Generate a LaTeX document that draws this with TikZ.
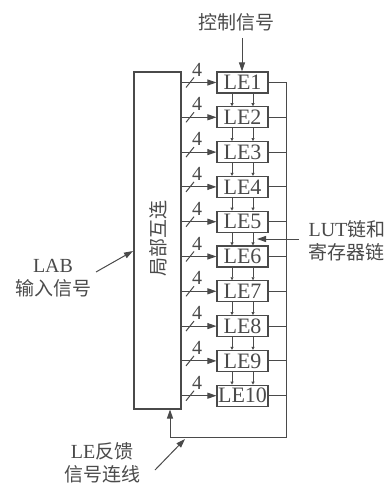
\documentclass[tikz,border=0pt]{standalone}
\usepackage{fontspec}
\setmainfont{Liberation Serif}
\newfontfamily\cjk{Noto Sans CJK SC}
\usetikzlibrary{arrows.meta}
\definecolor{ink}{HTML}{4A4A4A}
\begin{document}
\begin{tikzpicture}[x=1pt,y=-1pt,color=ink,line width=1pt,
  lebox/.style={draw=ink,line width=1.1pt,minimum width=51pt,minimum height=21pt,inner sep=0pt,font=\fontsize{22}{22}\selectfont,text=ink},
  arr/.style={-{Triangle[length=9pt,width=6pt]}},
  sarr/.style={-{Triangle[length=3pt,width=3pt]},line width=0.7pt},
  lbl/.style={text=ink,font=\cjk\fontsize{19}{23}\selectfont,align=center,inner sep=0pt},
  num/.style={text=ink,font=\fontsize{20}{20}\selectfont,inner sep=0pt}]
\useasboundingbox (0,0) rectangle (391,486);
% local interconnect box
\node[draw=ink,line width=1.1pt,minimum width=47pt,minimum height=337pt,inner sep=0pt] (lib) at (157.5,240.5) {};
\node[lbl,rotate=90] (libt) at (158,238) {局部互连};
% LEs
\foreach \i in {1,...,10}{
  \pgfmathsetmacro{\yc}{82.5+(\i-1)*34.8}
  \node[lebox] (le\i) at (242.5,\yc) {LE\i};
  \coordinate (in\i) at (181,\yc);
  \coordinate (bus\i) at (286,\yc);
  \draw[arr] (in\i) -- (le\i.west);
  \draw (le\i.east) -- (bus\i);
  \draw (186,\yc+5) -- (194,\yc-5);
  \node[num] (n\i) at (197,\yc-13) {4};
}
\foreach \i [evaluate=\i as \j using int(\i+1)] in {1,...,9}{
  \draw[sarr] ([xshift=-10.5pt]le\i.south) -- ([xshift=-10.5pt]le\j.north);
  \draw[sarr] ([xshift=10.5pt]le\i.south) -- ([xshift=10.5pt]le\j.north);
}
% feedback bus
\coordinate (c1) at (286,437);
\coordinate (c2) at (170,437);
\draw (bus1) -- (c1) -- (c2);
\draw[arr] (c2) -- (170,409.5);
% control
\node[lbl] (ctl) at (236,22) {控制信号};
\coordinate (ct) at (242,38);
\draw[arr] (ct) -- (ct |- le1.north);
% LUT chain
\node[lbl,align=left] (lut) at (347,241) {{\rmfamily\fontsize{20}{20}\selectfont LUT}链和\\寄存器链};
\coordinate (lt) at (299,239);
\draw[arr] (lt) -- (257,239);
% LAB input
\node[lbl] (lab) at (53,278) {{\rmfamily\fontsize{20}{20}\selectfont LAB}\\输入信号};
\coordinate (la) at (96,272);
\draw[arr] (la) -- (133,251);
% LE feedback
\node[lbl] (fb) at (102,463) {{\rmfamily\fontsize{20}{20}\selectfont LE}反馈\\信号连线};
\coordinate (fa) at (155,470);
\draw[arr] (fa) -- (185,439);
\end{tikzpicture}
\end{document}
